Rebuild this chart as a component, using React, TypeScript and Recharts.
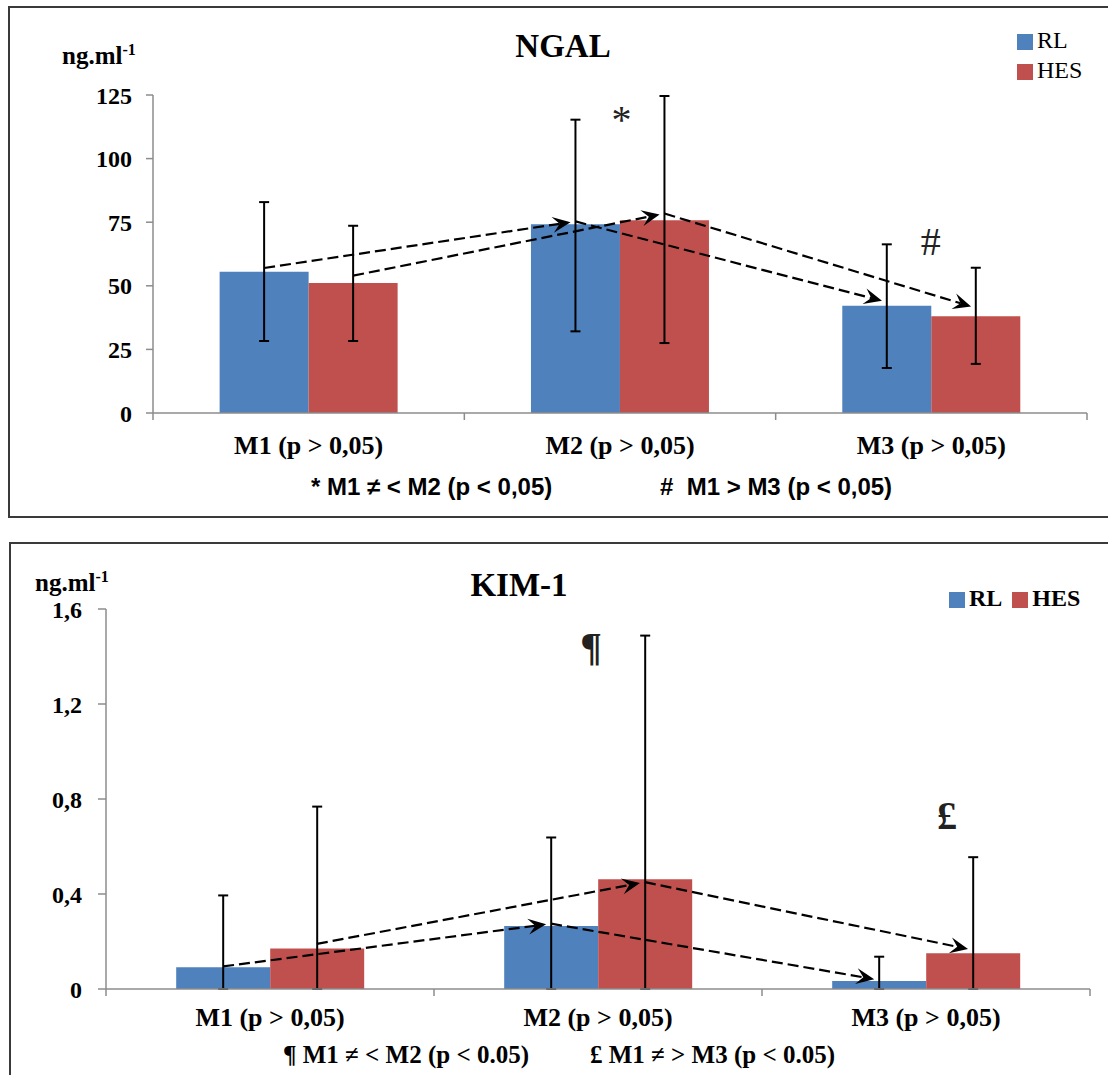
import {
  Bar,
  BarChart,
  ErrorBar,
  Legend,
  ReferenceDot,
  ReferenceLine,
  XAxis,
  YAxis,
} from "recharts";

const SERIF = "'Liberation Serif', 'Times New Roman', serif";
const SANS = "'Liberation Sans', Arial, sans-serif";
const RL_COLOR = "#4f81bd";
const HES_COLOR = "#c0504d";
const AXIS_COLOR = "#8c8c8c";

const categories = ["M1 (p > 0,05)", "M2 (p > 0,05)", "M3 (p > 0,05)"];
const seriesNames = ["RL", "HES"];

// NGAL, ng.ml-1
const ngalRl = [55.5, 74.2, 42.2];
const ngalRlLow = [28.3, 32.1, 17.7];
const ngalRlHigh = [82.9, 115.3, 66.3];
const ngalHes = [51.1, 75.8, 38.0];
const ngalHesLow = [28.3, 27.5, 19.3];
const ngalHesHigh = [73.6, 124.6, 57.1];
const ngalTicks = [0, 25, 50, 75, 100, 125];
const ngalRlArrow = [57, 75.3, 43.6];
const ngalHesArrow = [54, 78.4, 41.3];

// KIM-1, ng.ml-1
const kimRl = [0.092, 0.265, 0.034];
const kimRlLow = [0, 0, 0];
const kimRlHigh = [0.394, 0.638, 0.136];
const kimHes = [0.171, 0.462, 0.151];
const kimHesLow = [0, 0, 0];
const kimHesHigh = [0.768, 1.488, 0.555];
const kimTicks = [0, 0.4, 0.8, 1.2, 1.6];
const kimRlArrow = [0.095, 0.275, 0.038];
const kimHesArrow = [0.19, 0.45, 0.164];

// significance marks: [symbol, category position, value]
const ngalMarks: [string, number, number][] = [
  ["*", 1.505, 115.5],
  ["#", 2.498, 67.5],
];
const kimMarks: [string, number, number][] = [
  ["¶", 1.479, 1.444],
  ["£", 2.564, 0.735],
];

const GAP = 0.214;
const BAR_OFFSET = (1 - 2 * GAP) / 4;
const numTicks = [0, 0.5, 1, 1.5, 2, 2.5, 3];

function buildRows(
  rl: number[], rlLow: number[], rlHigh: number[],
  hes: number[], hesLow: number[], hesHigh: number[],
) {
  return categories.map((name, i) => ({
    name,
    pos: i + 0.5,
    rl: rl[i],
    rlErr: [rl[i] - rlLow[i], rlHigh[i] - rl[i]],
    hes: hes[i],
    hesErr: [hes[i] - hesLow[i], hesHigh[i] - hes[i]],
  }));
}

// dashed connector with a notched arrow head at its end
function ArrowShape(props: any) {
  const { x1, y1, x2, y2 } = props;
  const dx = x2 - x1;
  const dy = y2 - y1;
  const len = Math.hypot(dx, dy) || 1;
  const ux = dx / len;
  const uy = dy / len;
  const tx = x2 - ux * 5;
  const ty = y2 - uy * 5;
  const L = 18;
  const W = 8;
  const N = 11;
  const bx = tx - ux * L;
  const by = ty - uy * L;
  const px = -uy;
  const py = ux;
  const pts = `${tx},${ty} ${bx + px * W},${by + py * W} ${tx - ux * N},${ty - uy * N} ${bx - px * W},${by - py * W}`;
  return (
    <g>
      <line
        x1={x1}
        y1={y1}
        x2={tx - ux * N}
        y2={ty - uy * N}
        stroke="#000"
        strokeWidth={2.2}
        strokeDasharray="11 5"
      />
      <polygon points={pts} fill="#000" />
    </g>
  );
}

function CategoryTick(props: any, labelDy: number) {
  const { x, y, payload } = props;
  const v = payload.value;
  if (Number.isInteger(v)) {
    return <line x1={x} x2={x} y1={y} y2={y + 7} stroke={AXIS_COLOR} strokeWidth={1.5} />;
  }
  return (
    <text
      x={x}
      y={y + labelDy}
      textAnchor="middle"
      fill="#000"
      fontSize={26}
      fontWeight="bold"
      fontFamily={SERIF}
    >
      {categories[Math.floor(v)]}
    </text>
  );
}

function PanelChart({
  width,
  height,
  margin,
  rows,
  domain,
  ticks,
  fmt,
  yTickSize,
  yTickMargin,
  labelDy,
  rlArrow,
  hesArrow,
  marks,
  legendLayout,
  legendStyle,
  legendWeight,
}: any) {
  const segments: { pts: { x: number; y: number }[]; key: string }[] = [];
  [rlArrow, hesArrow].forEach((arr: number[], s: number) => {
    const off = s === 0 ? -BAR_OFFSET : BAR_OFFSET;
    for (let i = 0; i < arr.length - 1; i++) {
      segments.push({
        key: `${s}-${i}`,
        pts: [
          { x: i + 0.5 + off, y: arr[i] },
          { x: i + 1.5 + off, y: arr[i + 1] },
        ],
      });
    }
  });

  return (
    <BarChart
      width={width}
      height={height}
      data={rows}
      margin={margin}
      barCategoryGap={`${GAP * 100}%`}
      barGap={0}
    >
      <XAxis
        xAxisId="n"
        type="number"
        dataKey="pos"
        domain={[0, categories.length]}
        allowDataOverflow
        ticks={numTicks}
        interval={0}
        allowDecimals
        height={30}
        tickLine={false}
        tickSize={0}
        tickMargin={0}
        axisLine={{ stroke: AXIS_COLOR, strokeWidth: 1.5 }}
        tick={(p: any) => CategoryTick(p, labelDy)}
      />
      <XAxis xAxisId="c" dataKey="name" hide height={0} />
      <YAxis
        domain={domain}
        ticks={ticks}
        interval={0}
        width={60}
        tickSize={yTickSize}
        tickMargin={yTickMargin}
        tickFormatter={fmt}
        axisLine={{ stroke: AXIS_COLOR, strokeWidth: 1.5 }}
        tickLine={{ stroke: AXIS_COLOR, strokeWidth: 1.5 }}
        tick={{ fill: "#000", fontSize: 24, fontWeight: "bold", fontFamily: SERIF }}
      />
      <Legend
        layout={legendLayout}
        align="center"
        verticalAlign="middle"
        iconType="square"
        iconSize={16}
        itemSorter={(item: any) => seriesNames.indexOf(item.value)}
        wrapperStyle={{
          width: "auto",
          fontSize: 24,
          fontFamily: SERIF,
          fontWeight: legendWeight,
          lineHeight: "30px",
          ...legendStyle,
        }}
        formatter={(v: string) => <span style={{ color: "#000" }}>{v}</span>}
      />
      <Bar xAxisId="c" dataKey="rl" name={seriesNames[0]} fill={RL_COLOR} isAnimationActive={false}>
        <ErrorBar dataKey="rlErr" direction="y" width={5} stroke="#000" strokeWidth={2} />
      </Bar>
      <Bar xAxisId="c" dataKey="hes" name={seriesNames[1]} fill={HES_COLOR} isAnimationActive={false}>
        <ErrorBar dataKey="hesErr" direction="y" width={5} stroke="#000" strokeWidth={2} />
      </Bar>
      {segments.map((s) => (
        <ReferenceLine
          key={s.key}
          xAxisId="n"
          segment={s.pts}
          ifOverflow="visible"
          shape={(p: any) => <ArrowShape {...p} />}
        />
      ))}
      {marks.map(([sym, x, y]: [string, number, number]) => (
        <ReferenceDot
          key={sym}
          xAxisId="n"
          x={x}
          y={y}
          r={0}
          fill="none"
          stroke="none"
          ifOverflow="visible"
          label={{
            value: sym,
            position: "center",
            fontSize: 40,
            fontFamily: SERIF,
            fontWeight: sym === "*" || sym === "#" ? "normal" : "bold",
            fill: "#222",
          }}
        />
      ))}
    </BarChart>
  );
}

const commaFmt = (v: number) => String(v).replace(".", ",");

export default function App() {
  const ngalRows = buildRows(ngalRl, ngalRlLow, ngalRlHigh, ngalHes, ngalHesLow, ngalHesHigh);
  const kimRows = buildRows(kimRl, kimRlLow, kimRlHigh, kimHes, kimHesLow, kimHesHigh);

  return (
    <div
      style={{
        position: "relative",
        width: 1108,
        height: 1075,
        overflow: "hidden",
        background: "#fff",
        fontFamily: SERIF,
      }}
    >
      <style>{"body{margin:0}"}</style>

      {/* NGAL panel */}
      <div
        style={{
          position: "absolute",
          left: 8,
          top: 6,
          width: 1110,
          height: 512,
          border: "2px solid #3a3a3a",
          boxSizing: "border-box",
        }}
      />
      <div style={{ position: "absolute", left: 0, top: 0 }}>
        <PanelChart
          width={1108}
          height={530}
          margin={{ top: 95, right: 21, bottom: 87, left: 93 }}
          rows={ngalRows}
          domain={[0, 125]}
          ticks={ngalTicks}
          fmt={(v: number) => String(v)}
          yTickSize={7}
          yTickMargin={14}
          labelDy={41}
          rlArrow={ngalRlArrow}
          hesArrow={ngalHesArrow}
          marks={ngalMarks}
          legendLayout="vertical"
          legendStyle={{ left: 1017, top: 25 }}
          legendWeight="normal"
        />
      </div>
      <div
        style={{
          position: "absolute",
          left: 463,
          top: 30,
          width: 200,
          textAlign: "center",
          fontSize: 33,
          lineHeight: "33px",
          fontWeight: "bold",
        }}
      >
        NGAL
      </div>
      <div
        style={{
          position: "absolute",
          left: 62,
          top: 37,
          fontSize: 25,
          lineHeight: "25px",
          fontWeight: "bold",
        }}
      >
        ng.ml<sup style={{ fontSize: 16 }}>-1</sup>
      </div>
      <div
        style={{
          position: "absolute",
          top: 474,
          left: 0,
          width: 1108,
          fontFamily: SANS,
          fontWeight: "bold",
          fontSize: 24,
          lineHeight: "26px",
          whiteSpace: "pre",
        }}
      >
        <span style={{ position: "absolute", left: 311 }}>* M1 ≠ &lt; M2 (p &lt; 0,05)</span>
        <span style={{ position: "absolute", left: 660 }}>#  M1 &gt; M3 (p &lt; 0,05)</span>
      </div>

      {/* KIM-1 panel */}
      <div
        style={{
          position: "absolute",
          left: 9,
          top: 542,
          width: 1110,
          height: 600,
          border: "2px solid #3a3a3a",
          boxSizing: "border-box",
        }}
      />
      <div style={{ position: "absolute", left: 0, top: 530 }}>
        <PanelChart
          width={1108}
          height={545}
          margin={{ top: 79, right: 18, bottom: 56, left: 46 }}
          rows={kimRows}
          domain={[0, 1.6]}
          ticks={kimTicks}
          fmt={commaFmt}
          yTickSize={8}
          yTickMargin={16}
          labelDy={37}
          rlArrow={kimRlArrow}
          hesArrow={kimHesArrow}
          marks={kimMarks}
          legendLayout="horizontal"
          legendStyle={{ left: 949, top: 53 }}
          legendWeight="bold"
        />
      </div>
      <div
        style={{
          position: "absolute",
          left: 419,
          top: 569,
          width: 200,
          textAlign: "center",
          fontSize: 33,
          lineHeight: "33px",
          fontWeight: "bold",
        }}
      >
        KIM-1
      </div>
      <div
        style={{
          position: "absolute",
          left: 35,
          top: 564,
          fontSize: 25,
          lineHeight: "25px",
          fontWeight: "bold",
        }}
      >
        ng.ml<sup style={{ fontSize: 16 }}>-1</sup>
      </div>
      <div
        style={{
          position: "absolute",
          top: 1042,
          left: 0,
          width: 1108,
          fontWeight: "bold",
          fontSize: 25,
          lineHeight: "26px",
          whiteSpace: "pre",
        }}
      >
        <span style={{ position: "absolute", left: 283 }}>¶ M1 ≠ &lt; M2 (p &lt; 0.05)</span>
        <span style={{ position: "absolute", left: 590 }}>£ M1 ≠ &gt; M3 (p &lt; 0.05)</span>
      </div>
    </div>
  );
}
